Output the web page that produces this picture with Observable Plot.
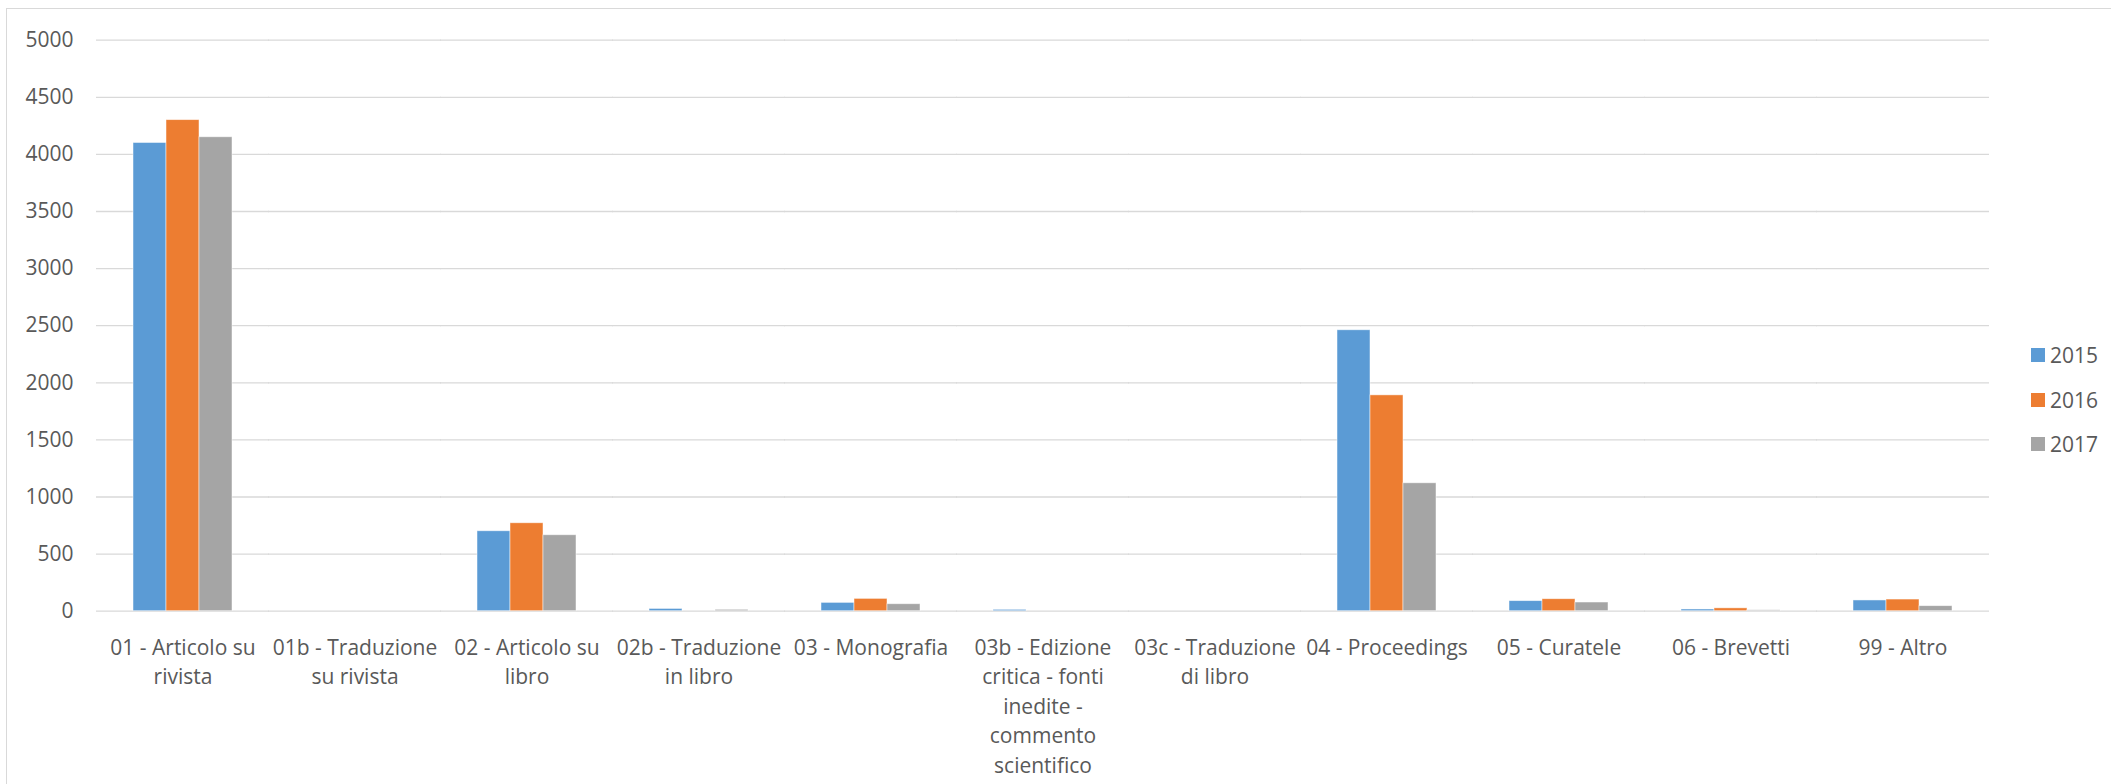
<!DOCTYPE html>
<html>
<head>
<meta charset="utf-8">
<script src="https://cdn.jsdelivr.net/npm/d3@7"></script>
<script src="https://cdn.jsdelivr.net/npm/@observablehq/plot@0.6"></script>
<style>
  html, body { margin: 0; padding: 0; background: #fff; overflow: hidden; }
  body { width: 2111px; height: 784px; position: relative; font-family: "Open Sans", sans-serif; }
  #frame { position: absolute; left: 6px; top: 8px; width: 2300px; height: 900px; border: 1.3px solid #d9d9d9; box-sizing: border-box; }
  #chart { position: absolute; left: 0; top: 0; }
  #legend { position: absolute; left: 2031px; top: 333px; color: #595959; font-size: 21px; }
  #legend .item { display: flex; align-items: center; height: 44.5px; }
  #legend .sw { width: 14px; height: 14px; margin-right: 5px; }
</style>
</head>
<body>
<div id="frame"></div>
<div id="chart"></div>
<div id="legend"></div>
<script>
const categories = [
  "01 - Articolo su rivista",
  "01b - Traduzione su rivista",
  "02 - Articolo su libro",
  "02b - Traduzione in libro",
  "03 - Monografia",
  "03b - Edizione critica - fonti inedite - commento scientifico",
  "03c - Traduzione di libro",
  "04 - Proceedings",
  "05 - Curatele",
  "06 - Brevetti",
  "99 - Altro"
];
const tickLabels = [
  "01 - Articolo su\nrivista",
  "01b - Traduzione\nsu rivista",
  "02 - Articolo su\nlibro",
  "02b - Traduzione\nin libro",
  "03 - Monografia",
  "03b - Edizione\ncritica - fonti\ninedite -\ncommento\nscientifico",
  "03c - Traduzione\ndi libro",
  "04 - Proceedings",
  "05 - Curatele",
  "06 - Brevetti",
  "99 - Altro"
];
const years = ["2015", "2016", "2017"];
const values2015 = [4100, 0, 700, 20, 73, 12, 0, 2460, 88, 15, 94];
const values2016 = [4300, 0, 770, 0, 108, 0, 0, 1890, 105, 25, 102];
const values2017 = [4150, 0, 665, 12, 61, 0, 0, 1120, 76, 8, 44];
const colors = ["#5b9bd5", "#ed7d31", "#a5a5a5"];
const yTicks = [0, 500, 1000, 1500, 2000, 2500, 3000, 3500, 4000, 4500, 5000];

const series = [values2015, values2016, values2017];
const data = [];
categories.forEach((c, i) => {
  years.forEach((y, j) => data.push({cat: c, year: y, value: series[j][i]}));
});
const labelOf = new Map(categories.map((c, i) => [c, tickLabels[i]]));

const chart = Plot.plot({
  width: 2111,
  height: 784,
  marginLeft: 95,
  marginRight: 122,
  marginTop: 39.7,
  marginBottom: 173.3,
  style: {fontFamily: "'Open Sans', sans-serif", color: "#595959", background: "transparent"},
  fx: {domain: categories, paddingInner: 0.425, paddingOuter: 0.2125, label: null},
  x: {domain: years, padding: 0, axis: null},
  y: {domain: [0, 5000], label: null},
  color: {domain: years, range: colors},
  marks: [
    Plot.ruleY(yTicks, {stroke: "#d9d9d9", strokeWidth: 1.3, insetLeft: -37, insetRight: -37}),
    Plot.barY(data, {fx: "cat", x: "year", y: "value", fill: "year", stroke: "white", strokeOpacity: 0.6, strokeWidth: 0.8}),
    Plot.axisY({ticks: yTicks, tickSize: 0, tickPadding: 60, fontSize: 21, label: null, fill: "#595959", tickFormat: (d) => String(d)}),
    Plot.axisFx({anchor: "bottom", tickSize: 0, tickPadding: 23, fontSize: 21, lineHeight: 1.4, label: null, tickFormat: (d) => labelOf.get(d), fill: "#595959"})
  ]
});
document.getElementById("chart").appendChild(chart);

const legend = document.getElementById("legend");
years.forEach((y, i) => {
  const it = document.createElement("div");
  it.className = "item";
  const sw = document.createElement("span");
  sw.className = "sw";
  sw.style.background = colors[i];
  const t = document.createElement("span");
  t.textContent = y;
  it.appendChild(sw); it.appendChild(t);
  legend.appendChild(it);
});
</script>
</body>
</html>
